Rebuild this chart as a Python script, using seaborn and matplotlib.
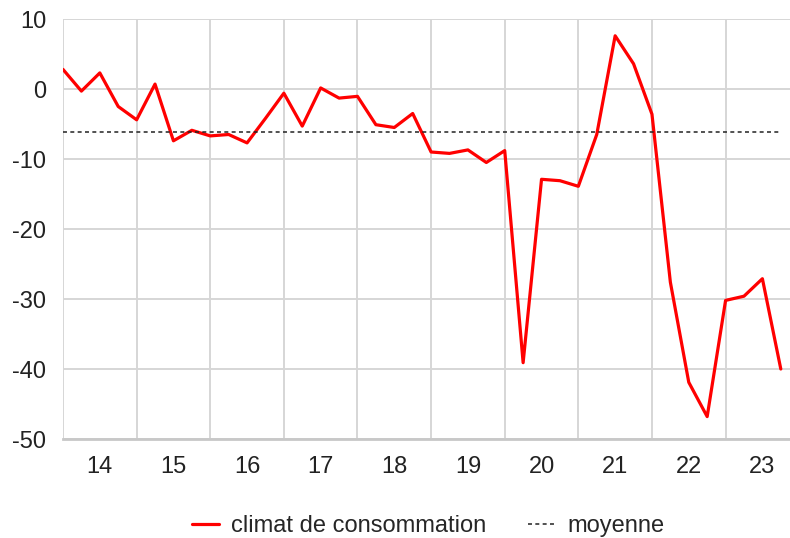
import numpy as np
import pandas as pd
import seaborn as sns
import matplotlib.pyplot as plt

# Indicateur synthétique du climat de consommation, trimestriel 2014-2023
years = ["14", "15", "16", "17", "18", "19", "20", "21", "22", "23"]
climat = [2.8, -0.3, 2.3, -2.5,
          -4.4, 0.7, -7.4, -5.9,
          -6.7, -6.5, -7.7, -4.2,
          -0.6, -5.3, 0.15, -1.3,
          -1.05, -5.1, -5.5, -3.5,
          -9.0, -9.2, -8.7, -10.5,
          -8.8, -39.1, -12.9, -13.1,
          -13.9, -6.5, 7.6, 3.6,
          -3.6, -27.6, -41.9, -46.8,
          -30.2, -29.6, -27.1, -40.0]
moyenne = -6.2
yticks = [10, 0, -10, -20, -30, -40, -50]

sns.set_style("white")
plt.rcParams['font.family'] = ['Liberation Sans', 'DejaVu Sans']
plt.rcParams['axes.unicode_minus'] = False

df = pd.DataFrame({'t': np.arange(len(climat)), 'climat': climat})
df['moyenne'] = moyenne

fig = plt.figure(figsize=(7.9, 5.38), dpi=100)
ax = fig.add_axes([63/790, 99/538, 727/790, 420/538])

grid_c = '#d6d6d6'
for v in yticks:
    ax.axhline(v, color=grid_c, lw=1.4, zorder=0)
for k in range(0, len(climat), 4):
    ax.axvline(k, color=grid_c, lw=1.4, zorder=0)

sns.lineplot(data=df, x='t', y='climat', color='#ff0000', lw=2.3, ax=ax,
             label='climat de consommation')
sns.lineplot(data=df, x='t', y='moyenne', color='#222222', lw=1.1, ax=ax,
             linestyle=(0, (2.6, 2.2)), label='moyenne')

ax.set_xlim(0, len(climat) - 0.5)
ax.set_ylim(-50, 10)
ax.set_yticks(yticks)
ax.set_xticks(np.arange(0, len(climat), 4))
ax.set_xticklabels([])
ax.set_xticks(np.arange(2, len(climat), 4), minor=True)
ax.set_xticklabels(years, minor=True)
ax.tick_params(axis='x', which='major', length=4, color=grid_c, width=1.4)
ax.tick_params(axis='x', which='minor', length=0, pad=12, labelsize=17, labelcolor='#222222')
ax.tick_params(axis='y', length=3, color=grid_c, width=1.4, pad=9, labelsize=17, labelcolor='#222222')
ax.set_xlabel('')
ax.set_ylabel('')
for s in ['top', 'right', 'left']:
    ax.spines[s].set_visible(False)
ax.spines['bottom'].set_color('#c8c8c8')
ax.spines['bottom'].set_linewidth(2)

ax.get_legend().remove()
handles, labels = ax.get_legend_handles_labels()
fig.legend(handles, labels, loc='center', bbox_to_anchor=(428/790, 1 - 526/538),
           ncol=2, frameon=False, fontsize=17, handlelength=1.15,
           columnspacing=1.8, handletextpad=0.5)

fig.savefig('out.png', dpi=100)
